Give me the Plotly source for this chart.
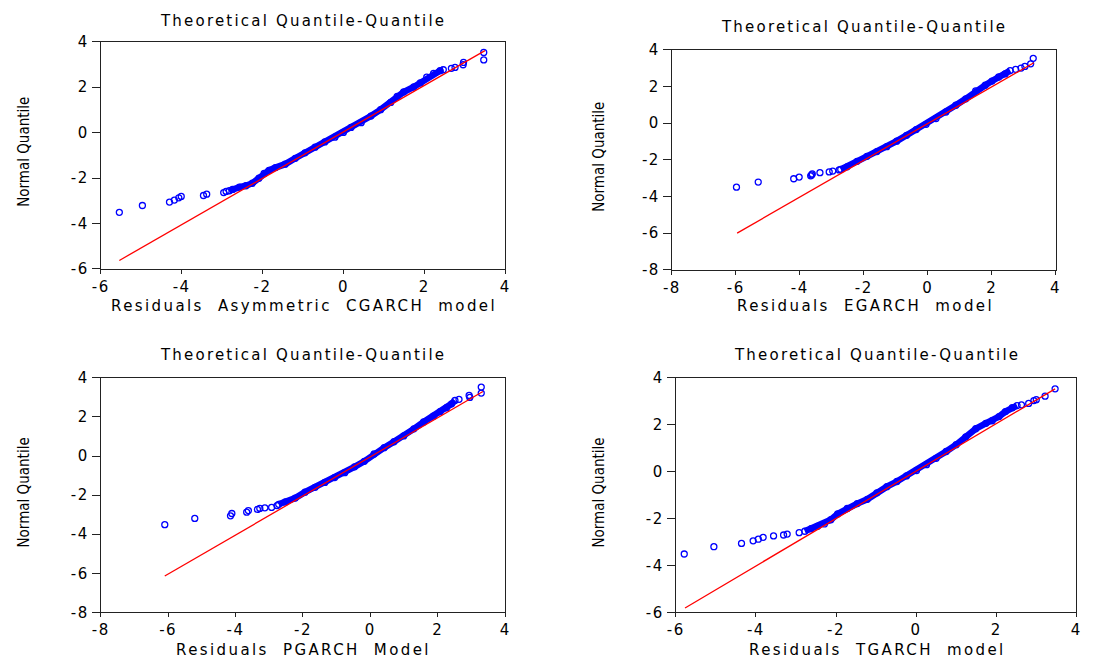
import plotly.graph_objects as go

W, H = 1106, 672

# ---------------- data ----------------
# Panel 1: Asymmetric CGARCH
p1_tail_lo_x = [-5.54, -4.97, -4.30, -4.18, -4.07, -4.01, -3.46, -3.38, -2.96, -2.90]
p1_tail_lo_y = [-3.51, -3.21, -3.06, -2.97, -2.87, -2.81, -2.77, -2.71, -2.64, -2.59]
p1_band_x = [-2.82, -2.74, -2.57, -2.41, -2.25, -2.09, -1.96, -1.84, -1.68, -1.44, -1.19, -0.95,
             -0.70, -0.46, -0.21, 0.00, 0.19, 0.44, 0.68, 0.92, 1.17, 1.33, 1.49, 1.74, 1.90,
             2.06, 2.23, 2.39, 2.47]
p1_band_y = [-2.56, -2.50, -2.40, -2.34, -2.23, -2.01, -1.80, -1.66, -1.54, -1.39, -1.13, -0.89,
             -0.64, -0.41, -0.20, 0.01, 0.23, 0.44, 0.73, 1.01, 1.33, 1.59, 1.79, 2.01, 2.19,
             2.44, 2.61, 2.73, 2.77]
p1_tail_hi_x = [2.67, 2.76, 2.96, 2.97, 3.47, 3.47]
p1_tail_hi_y = [2.83, 2.87, 2.99, 3.09, 3.20, 3.53]
p1_ref_x = [-5.54, 3.50]
p1_ref_y = [-5.63, 3.61]

# Panel 2: EGARCH
p2_tail_lo_x = [-5.98, -5.30, -4.19, -4.02, -3.66, -3.63, -3.61, -3.37, -3.08, -2.97, -2.77]
p2_tail_lo_y = [-3.49, -3.21, -3.03, -2.94, -2.87, -2.82, -2.77, -2.70, -2.66, -2.61, -2.55]
p2_band_x = [-2.72, -2.52, -2.21, -1.90, -1.59, -1.28, -0.97, -0.66, -0.36, -0.05, 0.26, 0.57,
             0.88, 1.19, 1.50, 1.80, 2.01, 2.22, 2.42, 2.58]
p2_band_y = [-2.52, -2.38, -2.08, -1.81, -1.55, -1.28, -0.98, -0.66, -0.35, -0.06, 0.25, 0.61,
             0.98, 1.33, 1.76, 2.07, 2.30, 2.52, 2.69, 2.87]
p2_tail_hi_x = [2.75, 2.92, 3.04, 3.22, 3.30]
p2_tail_hi_y = [2.94, 3.01, 3.10, 3.24, 3.54]
p2_ref_x = [-5.96, 3.32]
p2_ref_y = [-6.00, 3.30]

# Panel 3: PGARCH
p3_tail_lo_x = [-6.10, -5.21, -4.15, -4.11, -3.67, -3.62, -3.35, -3.28, -3.13, -2.93, -2.77]
p3_tail_lo_y = [-3.51, -3.19, -3.06, -2.94, -2.87, -2.79, -2.73, -2.68, -2.65, -2.63, -2.54]
p3_band_x = [-2.72, -2.52, -2.23, -1.94, -1.64, -1.35, -1.06, -0.76, -0.47, -0.18, 0.11, 0.41,
             0.70, 0.99, 1.29, 1.58, 1.87, 2.07, 2.26, 2.41, 2.51]
p3_band_y = [-2.47, -2.35, -2.15, -1.85, -1.60, -1.35, -1.10, -0.85, -0.55, -0.27, 0.11, 0.43,
             0.73, 1.03, 1.39, 1.74, 2.04, 2.27, 2.47, 2.67, 2.84]
p3_tail_hi_x = [2.63, 2.93, 2.95, 3.29, 3.29]
p3_tail_hi_y = [2.90, 3.10, 3.00, 3.22, 3.53]
p3_ref_x = [-6.10, 3.34]
p3_ref_y = [-6.14, 3.30]

# Panel 4: TGARCH
p4_tail_lo_x = [-5.79, -5.05, -4.36, -4.07, -3.94, -3.82, -3.56, -3.31, -3.22, -2.92]
p4_tail_lo_y = [-3.51, -3.20, -3.06, -2.95, -2.88, -2.80, -2.74, -2.70, -2.66, -2.60]
p4_band_x = [-2.78, -2.62, -2.46, -2.29, -2.13, -1.96, -1.72, -1.47, -1.22, -0.98, -0.73, -0.48,
             -0.24, 0.01, 0.26, 0.50, 0.75, 1.00, 1.24, 1.49, 1.74, 1.90, 2.07, 2.23, 2.40, 2.52]
p4_band_y = [-2.54, -2.43, -2.33, -2.23, -2.05, -1.80, -1.57, -1.36, -1.18, -0.90, -0.64, -0.42,
             -0.18, 0.05, 0.30, 0.57, 0.86, 1.15, 1.48, 1.83, 2.06, 2.17, 2.35, 2.56, 2.73, 2.82]
p4_tail_hi_x = [2.63, 2.81, 2.94, 3.00, 3.22, 3.47]
p4_tail_hi_y = [2.85, 2.91, 3.03, 3.07, 3.22, 3.53]
p4_ref_x = [-5.77, 3.47]
p4_ref_y = [-5.81, 3.53]

plot_title = "Theoretical Quantile-Quantile"
y_title = "Normal Quantile"
x_titles = ["Residuals Asymmetric CGARCH model", "Residuals EGARCH model",
            "Residuals PGARCH Model", "Residuals TGARCH model"]
tick_vals_a = [-6, -4, -2, 0, 2, 4]
tick_vals_b = [-8, -6, -4, -2, 0, 2, 4]

panels = [
    dict(lo=(p1_tail_lo_x, p1_tail_lo_y), band=(p1_band_x, p1_band_y), hi=(p1_tail_hi_x, p1_tail_hi_y),
         ref=(p1_ref_x, p1_ref_y), xt=tick_vals_a, yt=tick_vals_a,
         box=(93, 503, 33.7, 267), title_xy=(298, 12), xt_xy=(299, 305), yt_xy=(15, 147)),
    dict(lo=(p2_tail_lo_x, p2_tail_lo_y), band=(p2_band_x, p2_band_y), hi=(p2_tail_hi_x, p2_tail_hi_y),
         ref=(p2_ref_x, p2_ref_y), xt=tick_vals_b, yt=tick_vals_b,
         box=(672, 1061, 42, 268), title_xy=(867, 19), xt_xy=(868, 305), yt_xy=(598, 152)),
    dict(lo=(p3_tail_lo_x, p3_tail_lo_y), band=(p3_band_x, p3_band_y), hi=(p3_tail_hi_x, p3_tail_hi_y),
         ref=(p3_ref_x, p3_ref_y), xt=tick_vals_b, yt=tick_vals_b,
         box=(93, 503, 379, 620), title_xy=(298, 356), xt_xy=(299, 659), yt_xy=(15, 497)),
    dict(lo=(p4_tail_lo_x, p4_tail_lo_y), band=(p4_band_x, p4_band_y), hi=(p4_tail_hi_x, p4_tail_hi_y),
         ref=(p4_ref_x, p4_ref_y), xt=tick_vals_a, yt=tick_vals_a,
         box=(676, 1082, 379, 620), title_xy=(880, 356), xt_xy=(880, 659), yt_xy=(598, 497)),
]

BLUE = "#0000ff"
RED = "#ff0000"
FONT = "DejaVu Sans, Arial, sans-serif"
NARROW = "Liberation Sans Narrow, DejaVu Sans Condensed, sans-serif"


def spaced(text, ls, ws=0):
    return f'<span style="letter-spacing:{ls}px;word-spacing:{ws}px">{text}</span>'


fig = go.Figure()
layout = dict(width=W, height=H, margin=dict(l=0, r=0, t=0, b=0),
              paper_bgcolor="white", plot_bgcolor="white", showlegend=False,
              annotations=[])

mk = dict(symbol="circle-open", size=6, color=BLUE, line=dict(width=1.3, color=BLUE))

for i, p in enumerate(panels, start=1):
    xa = "x" if i == 1 else f"x{i}"
    ya = "y" if i == 1 else f"y{i}"
    fig.add_trace(go.Scatter(x=p["band"][0], y=p["band"][1], mode="lines+markers",
                             line=dict(color=BLUE, width=6.5), marker=mk,
                             xaxis=xa, yaxis=ya, hoverinfo="skip"))
    for key in ("lo", "hi"):
        fig.add_trace(go.Scatter(x=p[key][0], y=p[key][1], mode="markers", marker=mk,
                                 xaxis=xa, yaxis=ya, hoverinfo="skip"))
    fig.add_trace(go.Scatter(x=p["ref"][0], y=p["ref"][1], mode="lines",
                             line=dict(color=RED, width=1.3), xaxis=xa, yaxis=ya,
                             hoverinfo="skip"))
    x0, x1, yt, yb = p["box"]
    axcommon = dict(showgrid=False, zeroline=False, showline=True, linecolor="#222",
                    linewidth=1, mirror=True, ticks="outside", tickcolor="#222",
                    tickfont=dict(family=FONT, size=15, color="black"), fixedrange=True)
    layout["xaxis" if i == 1 else f"xaxis{i}"] = dict(
        domain=[x0 / W, x1 / W], anchor=ya, range=[p["xt"][0], p["xt"][-1]],
        tickvals=p["xt"], ticktext=[spaced(str(v), 1.5) for v in p["xt"]], ticklen=4, **axcommon)
    layout["yaxis" if i == 1 else f"yaxis{i}"] = dict(
        domain=[1 - yb / H, 1 - yt / H], anchor=xa, range=[p["yt"][0], p["yt"][-1]],
        tickvals=p["yt"], ticktext=[spaced(str(v), 1.5) for v in p["yt"]], ticklen=8, **axcommon)
    tx, ty = p["title_xy"]
    layout["annotations"].append(dict(text=spaced(plot_title, 2.2), x=tx / W, y=1 - ty / H,
                                      xref="paper", yref="paper", showarrow=False,
                                      xanchor="center", yanchor="middle",
                                      font=dict(family=FONT, size=15, color="black")))
    tx, ty = p["xt_xy"]
    layout["annotations"].append(dict(text=spaced(x_titles[i - 1], 2.4, 7), x=tx / W, y=1 - ty / H,
                                      xref="paper", yref="paper", showarrow=False,
                                      xanchor="center", yanchor="middle",
                                      font=dict(family=FONT, size=15, color="black")))
    tx, ty = p["yt_xy"]
    layout["annotations"].append(dict(text=y_title, x=tx / W, y=1 - ty / H, xref="paper",
                                      yref="paper", showarrow=False, xanchor="center",
                                      yanchor="middle", textangle=-90,
                                      font=dict(family=NARROW, size=15, color="black")))

fig.update_layout(**layout)
fig.write_html("out.html", config={"displayModeBar": False},
               post_script="document.body.style.margin='0';")
